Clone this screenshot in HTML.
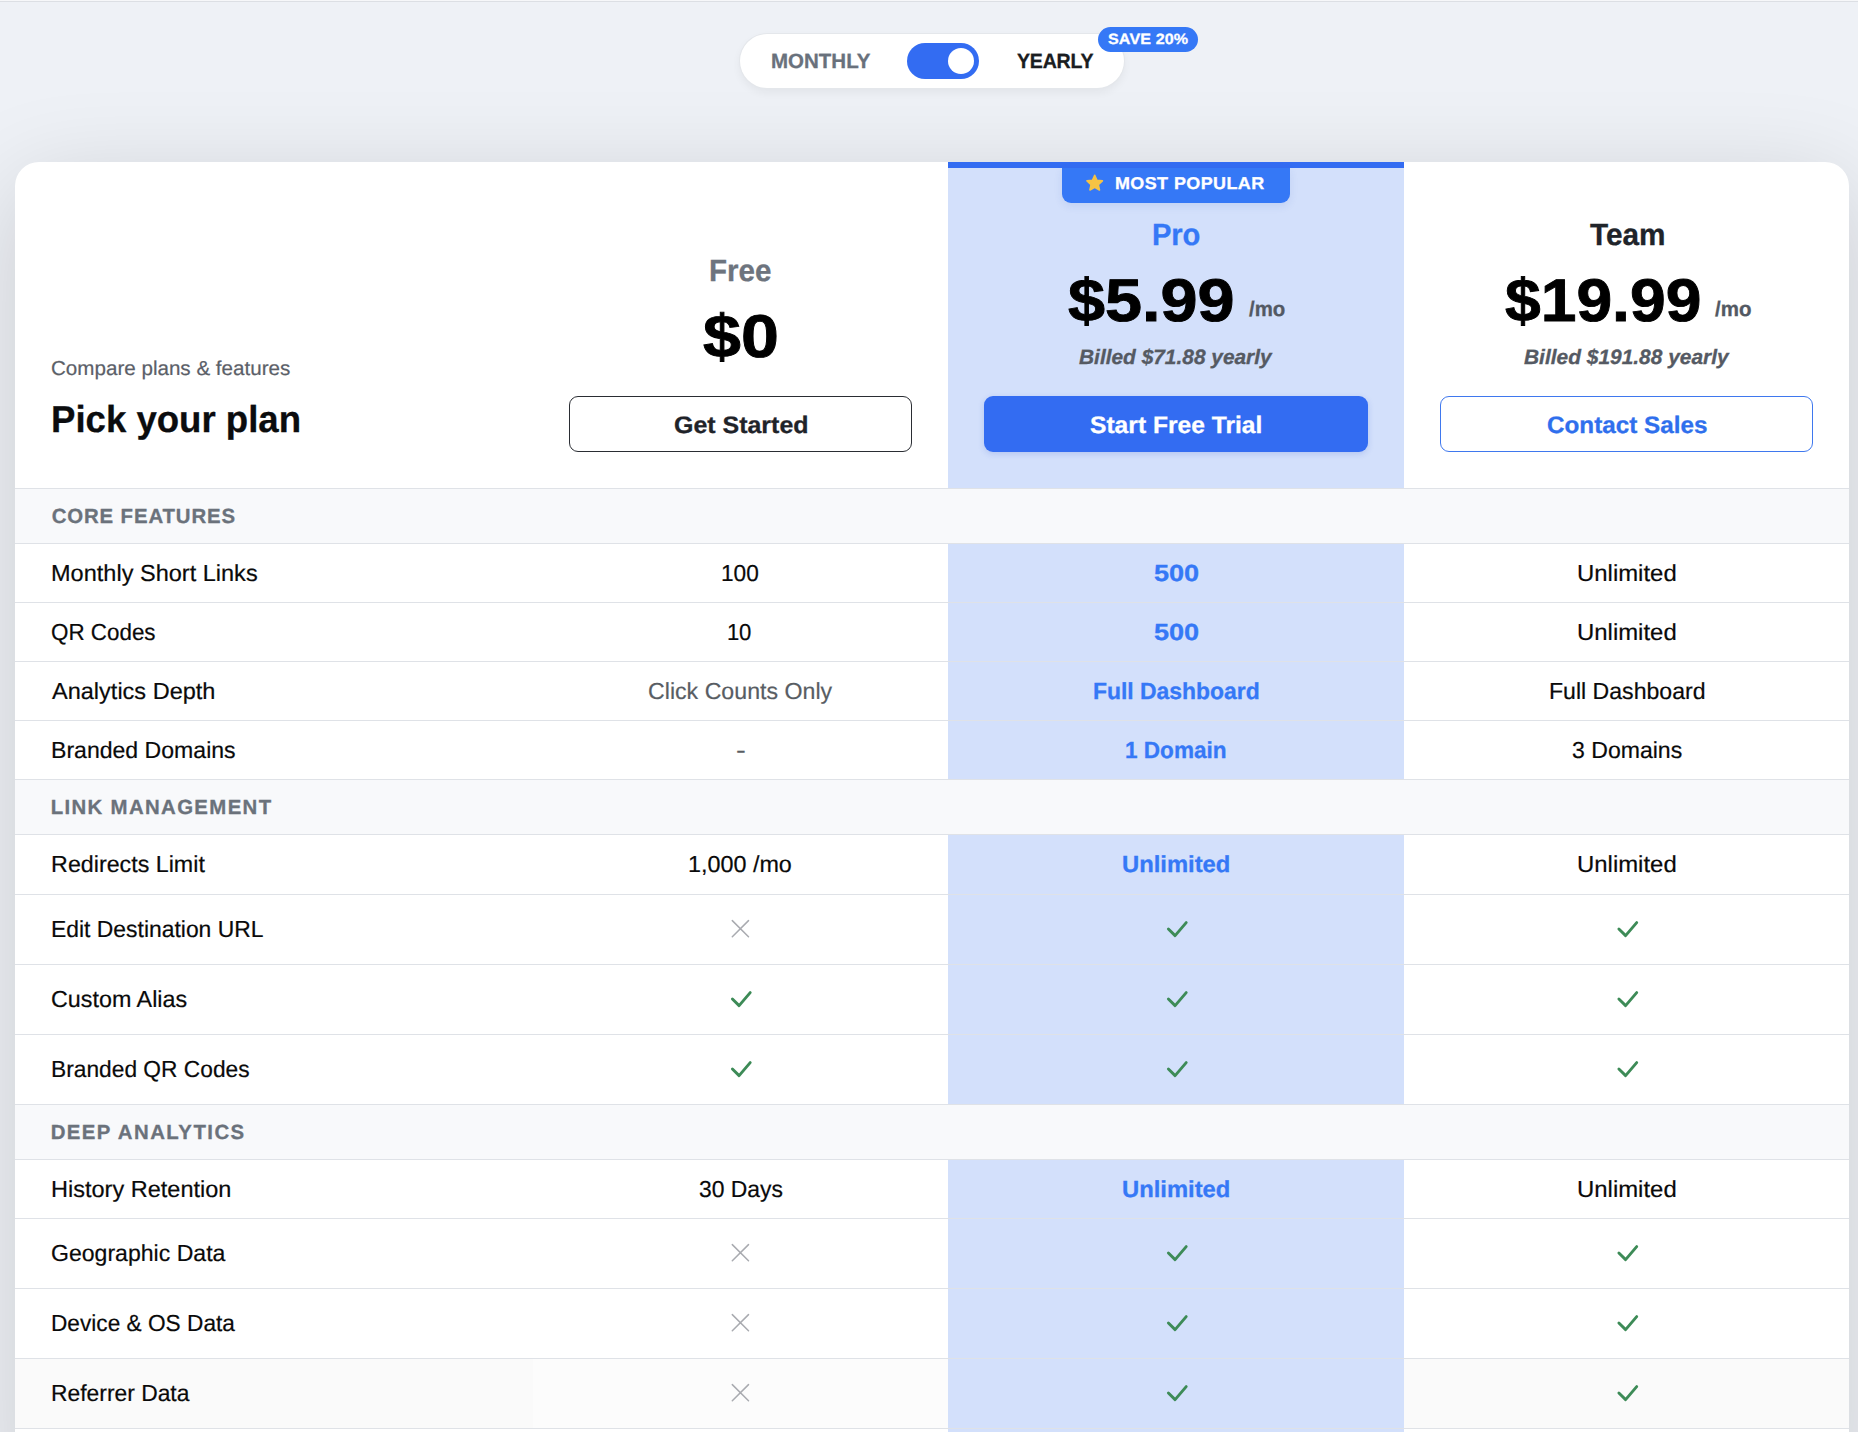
<!DOCTYPE html>
<html lang="en">
<head>
<meta charset="utf-8">
<title>Pick your plan</title>
<style>
html,body{margin:0;padding:0}
body{width:1858px;height:1432px;overflow:hidden;position:relative;background:#eef1f6;font-family:"Liberation Sans", sans-serif;}
.t{position:absolute;margin:0;padding:0;white-space:nowrap;line-height:1;display:block;font-weight:400;transform-origin:0 0;text-rendering:geometricPrecision}
.abs,.ic{position:absolute}
.ic{overflow:visible}
.topline1{left:0;top:0;width:1858px;height:1px;background:#f6f7f9}
.topline2{left:0;top:1px;width:1858px;height:1px;background:#dcdfe4}
.pill{left:740px;top:34px;width:384px;height:54px;border-radius:28px;background:#fff;box-shadow:0 0 0 1px #e4e7eb,0 4px 10px rgba(0,0,0,.06)}
.switch{left:907px;top:43px;width:72px;height:36px;border-radius:18px;background:#336cf2}
.knob{left:41px;top:5px;width:26px;height:26px;border-radius:13px;background:#fff}
.save{left:1098px;top:27px;width:100px;height:25px;border-radius:13px;background:#3578f6}
.card{left:15px;top:162px;width:1834px;height:1330px;border-radius:24px;background:#fff;box-shadow:0 24px 100px rgba(0,0,0,.155)}
.clip{left:15px;top:162px;width:1834px;height:1330px;border-radius:24px;overflow:hidden}
.procol{left:933px;top:0;width:456px;height:1432px;background:#d3e0fb}
.probar{left:933px;top:0;width:456px;height:6px;background:#336cf2}
.badge{left:1062px;top:168px;width:228px;height:35px;border-radius:0 0 9px 9px;background:#3578f6;box-shadow:0 3px 8px rgba(40,80,180,.10)}
.btn{display:block;height:54px;border-radius:9px;box-sizing:content-box;text-decoration:none}
.b1{left:569px;top:396px;width:341px;border:1px solid #2a2d33;background:#fff}
.b2{left:984px;top:396px;width:384px;height:56px;background:#336cf2;box-shadow:0 2px 6px rgba(40,80,200,.18)}
.b3{left:1440px;top:396px;width:371px;border:1px solid #3f78ee;background:#fff}
.line{left:0;width:1834px;height:1px;background:#dfe2e7}
.secbg{left:0;width:1834px;background:#f8f9fb}
.hov{left:0;width:1834px;background:#fafafa}
.hov1{left:518px;width:415px;background:#fcfcfc}
</style>
</head>
<body>
<div class="abs topline1"></div><div class="abs topline2"></div>
<div class="billing-toggle" role="group" aria-label="Billing period">
<div class="abs pill"></div>
<span class="t lbl" style="left:771.15px;top:52.00px;font-size:20.6px;font-weight:700;color:#69717c;transform:scaleX(0.9951);-webkit-text-stroke:0.3px #69717c;">MONTHLY</span>
<div class="abs switch" role="switch" aria-checked="true"><div class="abs knob"></div></div>
<span class="t lbl on" style="left:1016.55px;top:52.00px;font-size:20.6px;font-weight:700;color:#1a1d21;letter-spacing:-0.234px;transform:scaleX(0.9500);-webkit-text-stroke:0.3px #1a1d21;">YEARLY</span>
<div class="abs save"><span class="t save-t" style="left:9.75px;top:6.00px;font-size:14.9px;font-weight:700;color:#ffffff;letter-spacing:0.120px;transform:scaleX(1.0800);-webkit-text-stroke:0.3px #ffffff;">SAVE 20%</span></div>
</div>
<main class="pricing">
<div class="abs card"></div>
<div class="abs clip" aria-hidden="true">
<div class="abs hov" style="top:1197px;height:69px"></div>
<div class="abs hov1" style="top:1197px;height:69px"></div>
<div class="abs procol"></div><div class="abs probar"></div>
<div class="abs secbg" style="top:327px;height:54px"></div>
<div class="abs secbg" style="top:618px;height:54px"></div>
<div class="abs secbg" style="top:943px;height:54px"></div>
<div class="abs line" style="top:326px"></div>
<div class="abs line" style="top:381px"></div>
<div class="abs line" style="top:440px"></div>
<div class="abs line" style="top:499px"></div>
<div class="abs line" style="top:558px"></div>
<div class="abs line" style="top:617px"></div>
<div class="abs line" style="top:672px"></div>
<div class="abs line" style="top:732px"></div>
<div class="abs line" style="top:802px"></div>
<div class="abs line" style="top:872px"></div>
<div class="abs line" style="top:942px"></div>
<div class="abs line" style="top:997px"></div>
<div class="abs line" style="top:1056px"></div>
<div class="abs line" style="top:1126px"></div>
<div class="abs line" style="top:1196px"></div>
<div class="abs line" style="top:1266px"></div>
</div>
<header class="plans">
<div class="intro">
<p class="t" style="left:51.17px;top:359.00px;font-size:20.1px;color:#5b6068;transform:scaleX(1.0250);-webkit-text-stroke:0.2px #5b6068;">Compare plans &amp; features</p>
<h1 class="t" style="left:50.90px;top:401.00px;font-size:37.5px;font-weight:700;color:#0b0c0e;transform:scaleX(0.9753);-webkit-text-stroke:0.3px #0b0c0e;">Pick your plan</h1>
</div>
<section class="plan plan-free">
<h2 class="t" style="left:708.92px;top:256.00px;font-size:30.7px;font-weight:700;color:#6d747e;transform:scaleX(0.9641);-webkit-text-stroke:0.3px #6d747e;">Free</h2>
<span class="t price" style="left:703.15px;top:306.00px;font-size:60.4px;font-weight:700;color:#000;transform:scaleX(1.1283);-webkit-text-stroke:0.9px #000;">$0</span>
<a class="abs btn b1"><span class="t" style="left:103.95px;top:17.00px;font-size:23.8px;font-weight:700;color:#1f2329;transform:scaleX(1.0487);-webkit-text-stroke:0.3px #1f2329;">Get Started</span></a>
</section>
<section class="plan plan-pro">
<div class="abs badge"><svg class="ic star" style="left:20px;top:3px" width="24" height="24" viewBox="0 0 24 24" aria-hidden="true"><path d="M12.70 4.30 L14.94 9.32 L20.40 9.90 L16.32 13.58 L17.46 18.95 L12.70 16.21 L7.94 18.95 L9.08 13.58 L5.00 9.90 L10.46 9.32Z" fill="#f6c344" stroke="#f6c344" stroke-width="1.6" stroke-linejoin="round"/></svg><span class="t" style="left:53.10px;top:7.00px;font-size:17.1px;font-weight:700;color:#ffffff;letter-spacing:0.392px;transform:scaleX(1.0500);-webkit-text-stroke:0.3px #ffffff;">MOST POPULAR</span></div>
<h2 class="t" style="left:1152.45px;top:220.00px;font-size:30.7px;font-weight:700;color:#3578f6;letter-spacing:-0.100px;transform:scaleX(0.9500);-webkit-text-stroke:0.3px #3578f6;">Pro</h2>
<span class="t price" style="left:1068.35px;top:271.00px;font-size:60.2px;font-weight:700;color:#000;transform:scaleX(1.1063);-webkit-text-stroke:0.9px #000;">$5.99</span>
<span class="t per" style="left:1248.85px;top:299.00px;font-size:21.1px;font-weight:700;color:#535963;transform:scaleX(0.9677);-webkit-text-stroke:0.3px #535963;">/mo</span>
<p class="t billed" style="left:1079.05px;top:348.00px;font-size:20.8px;font-weight:700;color:#555a63;transform:scaleX(1.0038);font-style:italic;-webkit-text-stroke:0.3px #555a63;">Billed $71.88 yearly</p>
<a class="abs btn b2"><span class="t" style="left:106.45px;top:18.00px;font-size:23.8px;font-weight:700;color:#ffffff;transform:scaleX(1.0343);-webkit-text-stroke:0.3px #ffffff;">Start Free Trial</span></a>
</section>
<section class="plan plan-team">
<h2 class="t" style="left:1589.65px;top:220.00px;font-size:30.7px;font-weight:700;color:#20242a;transform:scaleX(0.9700);-webkit-text-stroke:0.3px #20242a;">Team</h2>
<span class="t price" style="left:1504.65px;top:271.00px;font-size:60.2px;font-weight:700;color:#000;transform:scaleX(1.0667);-webkit-text-stroke:0.9px #000;">$19.99</span>
<span class="t per" style="left:1714.65px;top:299.00px;font-size:21.1px;font-weight:700;color:#535963;transform:scaleX(0.9703);-webkit-text-stroke:0.3px #535963;">/mo</span>
<p class="t billed" style="left:1523.75px;top:348.00px;font-size:20.8px;font-weight:700;color:#555a63;transform:scaleX(1.0057);font-style:italic;-webkit-text-stroke:0.3px #555a63;">Billed $191.88 yearly</p>
<a class="abs btn b3"><span class="t" style="left:105.65px;top:17.00px;font-size:23.8px;font-weight:700;color:#2f6fed;transform:scaleX(1.0195);-webkit-text-stroke:0.3px #2f6fed;">Contact Sales</span></a>
</section>
</header>
<div class="features">
<section class="group">
<h3 class="t sec-t" style="left:51.65px;top:507.00px;font-size:20.4px;font-weight:700;color:#6b727b;letter-spacing:0.879px;-webkit-text-stroke:0.3px #6b727b;">CORE FEATURES</h3>
<div class="row">
<span class="t feat" style="left:51.09px;top:562.00px;font-size:23.25px;color:#0a0a0a;transform:scaleX(1.0121);-webkit-text-stroke:0.2px #0a0a0a;">Monthly Short Links</span>
<span class="t val" style="left:720.83px;top:562.00px;font-size:23.25px;color:#0a0a0a;transform:scaleX(0.9746);-webkit-text-stroke:0.2px #0a0a0a;">100</span>
<span class="t val pro-v" style="left:1153.95px;top:562.00px;font-size:23.25px;font-weight:700;color:#3578f6;transform:scaleX(1.1648);-webkit-text-stroke:0.3px #3578f6;">500</span>
<span class="t val" style="left:1576.97px;top:562.00px;font-size:23.25px;color:#0a0a0a;transform:scaleX(1.0287);-webkit-text-stroke:0.2px #0a0a0a;">Unlimited</span>
</div>
<div class="row">
<span class="t feat" style="left:51.14px;top:621.00px;font-size:23.25px;color:#0a0a0a;transform:scaleX(0.9634);-webkit-text-stroke:0.2px #0a0a0a;">QR Codes</span>
<span class="t val" style="left:727.35px;top:621.00px;font-size:23.25px;color:#0a0a0a;letter-spacing:-0.299px;transform:scaleX(0.9500);-webkit-text-stroke:0.2px #0a0a0a;">10</span>
<span class="t val pro-v" style="left:1153.95px;top:621.00px;font-size:23.25px;font-weight:700;color:#3578f6;transform:scaleX(1.1648);-webkit-text-stroke:0.3px #3578f6;">500</span>
<span class="t val" style="left:1576.97px;top:621.00px;font-size:23.25px;color:#0a0a0a;transform:scaleX(1.0287);-webkit-text-stroke:0.2px #0a0a0a;">Unlimited</span>
</div>
<div class="row">
<span class="t feat" style="left:52.10px;top:680.00px;font-size:23.25px;color:#0a0a0a;transform:scaleX(1.0118);-webkit-text-stroke:0.2px #0a0a0a;">Analytics Depth</span>
<span class="t val dim" style="left:647.70px;top:680.00px;font-size:23.25px;color:#585d63;transform:scaleX(0.9965);-webkit-text-stroke:0.2px #585d63;">Click Counts Only</span>
<span class="t val pro-v" style="left:1092.87px;top:680.00px;font-size:23.25px;font-weight:700;color:#3578f6;transform:scaleX(0.9849);-webkit-text-stroke:0.3px #3578f6;">Full Dashboard</span>
<span class="t val" style="left:1548.51px;top:680.00px;font-size:23.25px;color:#0a0a0a;transform:scaleX(0.9927);-webkit-text-stroke:0.2px #0a0a0a;">Full Dashboard</span>
</div>
<div class="row">
<span class="t feat" style="left:51.11px;top:739.00px;font-size:23.25px;color:#0a0a0a;transform:scaleX(0.9920);-webkit-text-stroke:0.2px #0a0a0a;">Branded Domains</span>
<span class="t val dim" style="left:735.53px;top:739.00px;font-size:23.25px;color:#585d63;transform:scaleX(1.2667);-webkit-text-stroke:0.2px #585d63;">-</span>
<span class="t val pro-v" style="left:1125.48px;top:739.00px;font-size:23.25px;font-weight:700;color:#3578f6;transform:scaleX(0.9703);-webkit-text-stroke:0.3px #3578f6;">1 Domain</span>
<span class="t val" style="left:1572.00px;top:739.00px;font-size:23.25px;color:#0a0a0a;transform:scaleX(0.9918);-webkit-text-stroke:0.2px #0a0a0a;">3 Domains</span>
</div>
</section>
<section class="group">
<h3 class="t sec-t" style="left:50.65px;top:798.00px;font-size:20.4px;font-weight:700;color:#6b727b;letter-spacing:1.345px;-webkit-text-stroke:0.3px #6b727b;">LINK MANAGEMENT</h3>
<div class="row">
<span class="t feat" style="left:51.10px;top:853.00px;font-size:23.25px;color:#0a0a0a;-webkit-text-stroke:0.2px #0a0a0a;">Redirects Limit</span>
<span class="t val" style="left:688.30px;top:853.00px;font-size:23.25px;color:#0a0a0a;transform:scaleX(1.0043);-webkit-text-stroke:0.2px #0a0a0a;">1,000 /mo</span>
<span class="t val pro-v" style="left:1121.93px;top:853.00px;font-size:23.25px;font-weight:700;color:#3578f6;transform:scaleX(1.0230);-webkit-text-stroke:0.3px #3578f6;">Unlimited</span>
<span class="t val" style="left:1576.97px;top:853.00px;font-size:23.25px;color:#0a0a0a;transform:scaleX(1.0287);-webkit-text-stroke:0.2px #0a0a0a;">Unlimited</span>
</div>
<div class="row">
<span class="t feat" style="left:51.12px;top:918.00px;font-size:23.25px;color:#0a0a0a;transform:scaleX(0.9847);-webkit-text-stroke:0.2px #0a0a0a;">Edit Destination URL</span>
<svg class="ic no" style="left:728px;top:917px" width="26" height="26" viewBox="0 0 26 26" role="img" aria-label="Not included"><path d="M4.3 3.6 L20.5 19.8 M20.5 3.6 L4.3 19.8" fill="none" stroke="#a9abb0" stroke-width="1.5" stroke-linecap="round"/></svg>
<svg class="ic yes" style="left:1164px;top:917px" width="26" height="26" viewBox="0 0 26 26" role="img" aria-label="Included"><path d="M4.4 12.0 L11.1 18.6 L22.2 5.6" fill="none" stroke="#3d8b57" stroke-width="2.9" stroke-linecap="round" stroke-linejoin="round"/></svg>
<svg class="ic yes" style="left:1614px;top:917px" width="26" height="26" viewBox="0 0 26 26" role="img" aria-label="Included"><path d="M4.9 12.0 L11.6 18.6 L22.7 5.6" fill="none" stroke="#3d8b57" stroke-width="2.9" stroke-linecap="round" stroke-linejoin="round"/></svg>
</div>
<div class="row">
<span class="t feat" style="left:51.10px;top:988.00px;font-size:23.25px;color:#0a0a0a;transform:scaleX(1.0034);-webkit-text-stroke:0.2px #0a0a0a;">Custom Alias</span>
<svg class="ic yes" style="left:728px;top:987px" width="26" height="26" viewBox="0 0 26 26" role="img" aria-label="Included"><path d="M4.4 12.0 L11.1 18.6 L22.2 5.6" fill="none" stroke="#3d8b57" stroke-width="2.9" stroke-linecap="round" stroke-linejoin="round"/></svg>
<svg class="ic yes" style="left:1164px;top:987px" width="26" height="26" viewBox="0 0 26 26" role="img" aria-label="Included"><path d="M4.4 12.0 L11.1 18.6 L22.2 5.6" fill="none" stroke="#3d8b57" stroke-width="2.9" stroke-linecap="round" stroke-linejoin="round"/></svg>
<svg class="ic yes" style="left:1614px;top:987px" width="26" height="26" viewBox="0 0 26 26" role="img" aria-label="Included"><path d="M4.9 12.0 L11.6 18.6 L22.7 5.6" fill="none" stroke="#3d8b57" stroke-width="2.9" stroke-linecap="round" stroke-linejoin="round"/></svg>
</div>
<div class="row">
<span class="t feat" style="left:51.12px;top:1058.00px;font-size:23.25px;color:#0a0a0a;transform:scaleX(0.9787);-webkit-text-stroke:0.2px #0a0a0a;">Branded QR Codes</span>
<svg class="ic yes" style="left:728px;top:1057px" width="26" height="26" viewBox="0 0 26 26" role="img" aria-label="Included"><path d="M4.4 12.0 L11.1 18.6 L22.2 5.6" fill="none" stroke="#3d8b57" stroke-width="2.9" stroke-linecap="round" stroke-linejoin="round"/></svg>
<svg class="ic yes" style="left:1164px;top:1057px" width="26" height="26" viewBox="0 0 26 26" role="img" aria-label="Included"><path d="M4.4 12.0 L11.1 18.6 L22.2 5.6" fill="none" stroke="#3d8b57" stroke-width="2.9" stroke-linecap="round" stroke-linejoin="round"/></svg>
<svg class="ic yes" style="left:1614px;top:1057px" width="26" height="26" viewBox="0 0 26 26" role="img" aria-label="Included"><path d="M4.9 12.0 L11.6 18.6 L22.7 5.6" fill="none" stroke="#3d8b57" stroke-width="2.9" stroke-linecap="round" stroke-linejoin="round"/></svg>
</div>
</section>
<section class="group">
<h3 class="t sec-t" style="left:50.65px;top:1123.00px;font-size:20.4px;font-weight:700;color:#6b727b;letter-spacing:1.433px;-webkit-text-stroke:0.3px #6b727b;">DEEP ANALYTICS</h3>
<div class="row">
<span class="t feat" style="left:51.09px;top:1178.00px;font-size:23.25px;color:#0a0a0a;transform:scaleX(1.0119);-webkit-text-stroke:0.2px #0a0a0a;">History Retention</span>
<span class="t val" style="left:698.80px;top:1178.00px;font-size:23.25px;color:#0a0a0a;transform:scaleX(0.9850);-webkit-text-stroke:0.2px #0a0a0a;">30 Days</span>
<span class="t val pro-v" style="left:1121.93px;top:1178.00px;font-size:23.25px;font-weight:700;color:#3578f6;transform:scaleX(1.0230);-webkit-text-stroke:0.3px #3578f6;">Unlimited</span>
<span class="t val" style="left:1576.97px;top:1178.00px;font-size:23.25px;color:#0a0a0a;transform:scaleX(1.0287);-webkit-text-stroke:0.2px #0a0a0a;">Unlimited</span>
</div>
<div class="row">
<span class="t feat" style="left:51.11px;top:1242.00px;font-size:23.25px;color:#0a0a0a;transform:scaleX(0.9923);-webkit-text-stroke:0.2px #0a0a0a;">Geographic Data</span>
<svg class="ic no" style="left:728px;top:1241px" width="26" height="26" viewBox="0 0 26 26" role="img" aria-label="Not included"><path d="M4.3 3.6 L20.5 19.8 M20.5 3.6 L4.3 19.8" fill="none" stroke="#a9abb0" stroke-width="1.5" stroke-linecap="round"/></svg>
<svg class="ic yes" style="left:1164px;top:1241px" width="26" height="26" viewBox="0 0 26 26" role="img" aria-label="Included"><path d="M4.4 12.0 L11.1 18.6 L22.2 5.6" fill="none" stroke="#3d8b57" stroke-width="2.9" stroke-linecap="round" stroke-linejoin="round"/></svg>
<svg class="ic yes" style="left:1614px;top:1241px" width="26" height="26" viewBox="0 0 26 26" role="img" aria-label="Included"><path d="M4.9 12.0 L11.6 18.6 L22.7 5.6" fill="none" stroke="#3d8b57" stroke-width="2.9" stroke-linecap="round" stroke-linejoin="round"/></svg>
</div>
<div class="row">
<span class="t feat" style="left:51.13px;top:1312.00px;font-size:23.25px;color:#0a0a0a;transform:scaleX(0.9748);-webkit-text-stroke:0.2px #0a0a0a;">Device &amp; OS Data</span>
<svg class="ic no" style="left:728px;top:1311px" width="26" height="26" viewBox="0 0 26 26" role="img" aria-label="Not included"><path d="M4.3 3.6 L20.5 19.8 M20.5 3.6 L4.3 19.8" fill="none" stroke="#a9abb0" stroke-width="1.5" stroke-linecap="round"/></svg>
<svg class="ic yes" style="left:1164px;top:1311px" width="26" height="26" viewBox="0 0 26 26" role="img" aria-label="Included"><path d="M4.4 12.0 L11.1 18.6 L22.2 5.6" fill="none" stroke="#3d8b57" stroke-width="2.9" stroke-linecap="round" stroke-linejoin="round"/></svg>
<svg class="ic yes" style="left:1614px;top:1311px" width="26" height="26" viewBox="0 0 26 26" role="img" aria-label="Included"><path d="M4.9 12.0 L11.6 18.6 L22.7 5.6" fill="none" stroke="#3d8b57" stroke-width="2.9" stroke-linecap="round" stroke-linejoin="round"/></svg>
</div>
<div class="row is-hover">
<span class="t feat" style="left:51.12px;top:1382.00px;font-size:23.25px;color:#0a0a0a;transform:scaleX(0.9828);-webkit-text-stroke:0.2px #0a0a0a;">Referrer Data</span>
<svg class="ic no" style="left:728px;top:1381px" width="26" height="26" viewBox="0 0 26 26" role="img" aria-label="Not included"><path d="M4.3 3.6 L20.5 19.8 M20.5 3.6 L4.3 19.8" fill="none" stroke="#a9abb0" stroke-width="1.5" stroke-linecap="round"/></svg>
<svg class="ic yes" style="left:1164px;top:1381px" width="26" height="26" viewBox="0 0 26 26" role="img" aria-label="Included"><path d="M4.4 12.0 L11.1 18.6 L22.2 5.6" fill="none" stroke="#3d8b57" stroke-width="2.9" stroke-linecap="round" stroke-linejoin="round"/></svg>
<svg class="ic yes" style="left:1614px;top:1381px" width="26" height="26" viewBox="0 0 26 26" role="img" aria-label="Included"><path d="M4.9 12.0 L11.6 18.6 L22.7 5.6" fill="none" stroke="#3d8b57" stroke-width="2.9" stroke-linecap="round" stroke-linejoin="round"/></svg>
</div>
</section>
</div>
</main>
</body>
</html>
